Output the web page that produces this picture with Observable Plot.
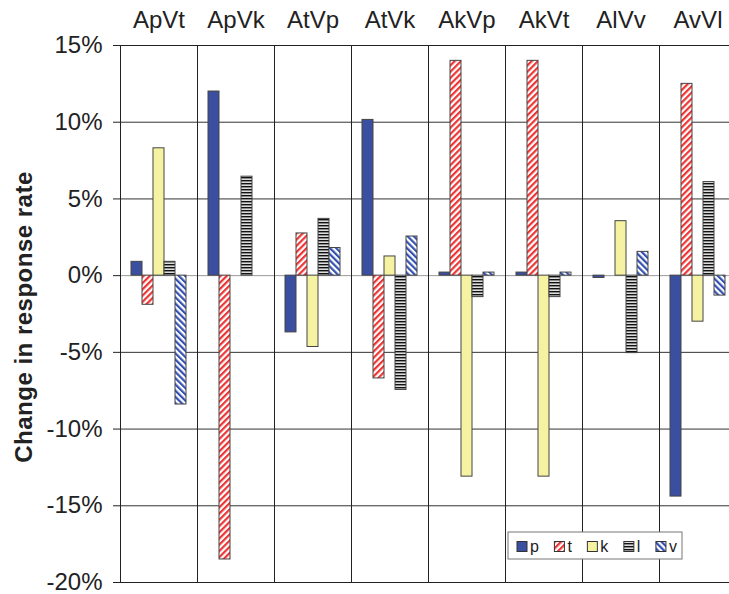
<!DOCTYPE html>
<html>
<head>
<meta charset="utf-8">
<script src="https://cdn.jsdelivr.net/npm/d3@7"></script>
<script src="https://cdn.jsdelivr.net/npm/@observablehq/plot@0.6"></script>
<style>
  html, body { margin: 0; padding: 0; background: white; overflow: hidden; }
  #chart { position: relative; width: 729px; height: 594px; overflow: hidden; }
  #chart svg { max-width: none !important; }
</style>
</head>
<body>
<div id="chart"></div>
<script>
const groups = ["ApVt", "ApVk", "AtVp", "AtVk", "AkVp", "AkVt", "AlVv", "AvVl"];
const series = ["p", "t", "k", "l", "v"];
const pValues = [0.9, 12.0, -3.7, 10.15, 0.2, 0.2, -0.15, -14.4];
const tValues = [-1.9, -18.5, 2.75, -6.7, 14.0, 14.0, 0, 12.5];
const kValues = [8.3, 0, -4.65, 1.25, -13.1, -13.1, 3.55, -3.0];
const lValues = [0.9, 6.45, 3.7, -7.45, -1.4, -1.4, -5.05, 6.1];
const vValues = [-8.4, 0, 1.8, 2.55, 0.2, 0.2, 1.55, -1.3];
const yTicks = [-20, -15, -10, -5, 0, 5, 10, 15];
const yLabel = "Change in response rate";

const valuesBySeries = {p: pValues, t: tValues, k: kValues, l: lValues, v: vValues};
const fills = {p: "url(#pat-p)", t: "url(#pat-t)", k: "url(#pat-k)", l: "url(#pat-l)", v: "url(#pat-v)"};

const rows = [];
groups.forEach((g, i) => series.forEach(s => rows.push({group: g, series: s, value: valuesBySeries[s][i]})));

const font = "'Liberation Sans', Arial, Helvetica, sans-serif";

const plot = Plot.plot({
  width: 736,
  height: 594,
  marginLeft: 119,
  marginRight: 0,
  marginTop: 45,
  marginBottom: 12,
  style: {fontFamily: font, fontSize: "24px", color: "#222", background: "white", overflow: "visible", maxWidth: "none"},
  facet: {data: rows, x: "group"},
  fx: {domain: groups, padding: 0, axis: "top", tickSize: 0, tickPadding: 18, label: null},
  x: {domain: series, paddingInner: 0, paddingOuter: 0.71, axis: null},
  y: {domain: [-20, 15], ticks: yTicks, tickFormat: d => d + "%", tickSize: 7, tickPadding: 11, label: null},
  marks: [
    Plot.ruleY(yTicks.filter(d => d !== 0), {stroke: "#333", strokeWidth: 1}),
    Plot.ruleY([0], {stroke: "#999", strokeWidth: 1}),
    ...series.map(s => Plot.barY(rows, {
      filter: d => d.series === s,
      x: "series", y: "value",
      fill: fills[s], stroke: "#444", strokeWidth: 1
    })),
    Plot.frame({stroke: "#222", strokeWidth: 1})
  ]
});
plot.style.maxWidth = "none";
document.getElementById("chart").appendChild(plot);

const svg = d3.select(plot);
const defs = svg.insert("defs", ":first-child");
defs.append("pattern").attr("id", "pat-p").attr("patternUnits", "userSpaceOnUse").attr("width", 4).attr("height", 4)
  .append("rect").attr("width", 4).attr("height", 4).attr("fill", "#3A4FA0");
defs.append("pattern").attr("id", "pat-k").attr("patternUnits", "userSpaceOnUse").attr("width", 4).attr("height", 4)
  .append("rect").attr("width", 4).attr("height", 4).attr("fill", "#F5F3A2");
function stripes(id, color, angle) {
  const p = defs.append("pattern").attr("id", id).attr("patternUnits", "userSpaceOnUse")
    .attr("width", 4.4).attr("height", 4.4).attr("patternTransform", `rotate(${angle})`);
  p.append("rect").attr("width", 4.4).attr("height", 4.4).attr("fill", "white");
  p.append("rect").attr("width", 2.2).attr("height", 4.4).attr("fill", color);
}
stripes("pat-t", "#EE3333", 45);
stripes("pat-v", "#3350B0", -45);
const pl = defs.append("pattern").attr("id", "pat-l").attr("patternUnits", "userSpaceOnUse").attr("width", 4).attr("height", 3);
pl.append("rect").attr("width", 4).attr("height", 3).attr("fill", "#DDDDDD");
pl.append("rect").attr("width", 4).attr("height", 1.4).attr("fill", "#111");

// y axis title
svg.append("text")
  .attr("transform", "translate(23,317) rotate(-90)")
  .attr("text-anchor", "middle")
  .attr("dominant-baseline", "central")
  .attr("font-family", font)
  .attr("font-weight", "bold")
  .attr("font-size", 24)
  .attr("letter-spacing", "0.5px")
  .attr("fill", "#222")
  .text(yLabel);

// legend
const lg = svg.append("g").attr("font-family", font).attr("font-size", 16).attr("fill", "#222").attr("text-anchor", "start");
lg.append("rect").attr("x", 508).attr("y", 532).attr("width", 174).attr("height", 27)
  .attr("fill", "white").attr("stroke", "#777").attr("stroke-width", 1);
let lx = 517;
series.forEach(s => {
  lg.append("rect").attr("x", lx).attr("y", 541.5).attr("width", 10).attr("height", 10)
    .attr("fill", fills[s]).attr("stroke", "#333").attr("stroke-width", 1);
  const t = lg.append("text").attr("x", lx + 13).attr("y", 552).attr("text-anchor", "start").text(s);
  const w = t.node().getComputedTextLength();
  lx += 10 + 3 + w + 15.5;
});
</script>
</body>
</html>
